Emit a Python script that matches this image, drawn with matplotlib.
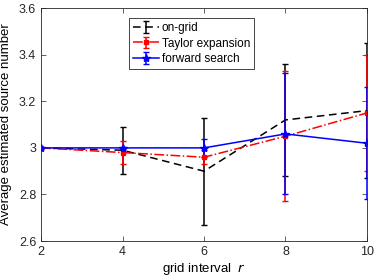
import numpy as np
import matplotlib
matplotlib.use("Agg")
import matplotlib.pyplot as plt
from matplotlib.ticker import FuncFormatter

# data
r = [2, 4, 6, 8, 10]

on_grid = [3.0, 2.99, 2.90, 3.12, 3.16]
on_grid_err = [0.0, 0.10, 0.23, 0.24, 0.29]

taylor = [3.0, 2.98, 2.96, 3.05, 3.15]
taylor_err = [0.0, 0.05, 0.03, 0.28, 0.25]

forward = [3.0, 3.0, 3.0, 3.06, 3.02]
forward_err = [0.0, 0.005, 0.04, 0.26, 0.24]

plt.rcParams['font.family'] = ['Liberation Sans', 'DejaVu Sans']
plt.rcParams['font.size'] = 9

fig = plt.figure(figsize=(3.74, 2.80), dpi=100)
ax = fig.add_axes([0.11, 0.139, 0.871, 0.832])

ax.errorbar(r, on_grid, yerr=on_grid_err, color="black", ls=(0, (5, 3)),
            lw=1.1, capsize=2.5, elinewidth=1.1, label="on-grid")
ax.errorbar(r, taylor, yerr=taylor_err, color="red", ls="-.", marker="s",
            ms=3, lw=1.1, capsize=2.5, elinewidth=1.1, label="Taylor expansion")
ax.errorbar(r, forward, yerr=forward_err, color="blue", ls="-", marker="*",
            ms=6, lw=1.1, capsize=2.5, elinewidth=1.1, label="forward search")

ax.set_xlim(2, 10)
ax.set_ylim(2.6, 3.6)
ax.set_xticks([2, 4, 6, 8, 10])
ax.set_yticks([2.6, 2.8, 3.0, 3.2, 3.4, 3.6])
ax.yaxis.set_major_formatter(FuncFormatter(lambda v, p: "%g" % round(v, 2)))
ax.tick_params(direction="in", length=3.5, width=0.5, top=True, right=True,
               labelsize=9, colors="#262626")
for s in ax.spines.values():
    s.set_linewidth(0.6)
    s.set_color("#262626")

ax.set_xlabel("grid interval  $\\it{r}$", fontsize=9.5, labelpad=2)
ax.set_ylabel("Average estimated source number", fontsize=9.5, labelpad=5)

leg = ax.legend(loc="upper left", bbox_to_anchor=(0.27, 0.958), fontsize=8.5,
                fancybox=False, edgecolor="#262626", framealpha=1,
                handlelength=2.2, handletextpad=0.2, borderpad=0.35,
                labelspacing=0.3, borderaxespad=0)
leg.get_frame().set_linewidth(0.6)

fig.savefig("out.png", dpi=100)
